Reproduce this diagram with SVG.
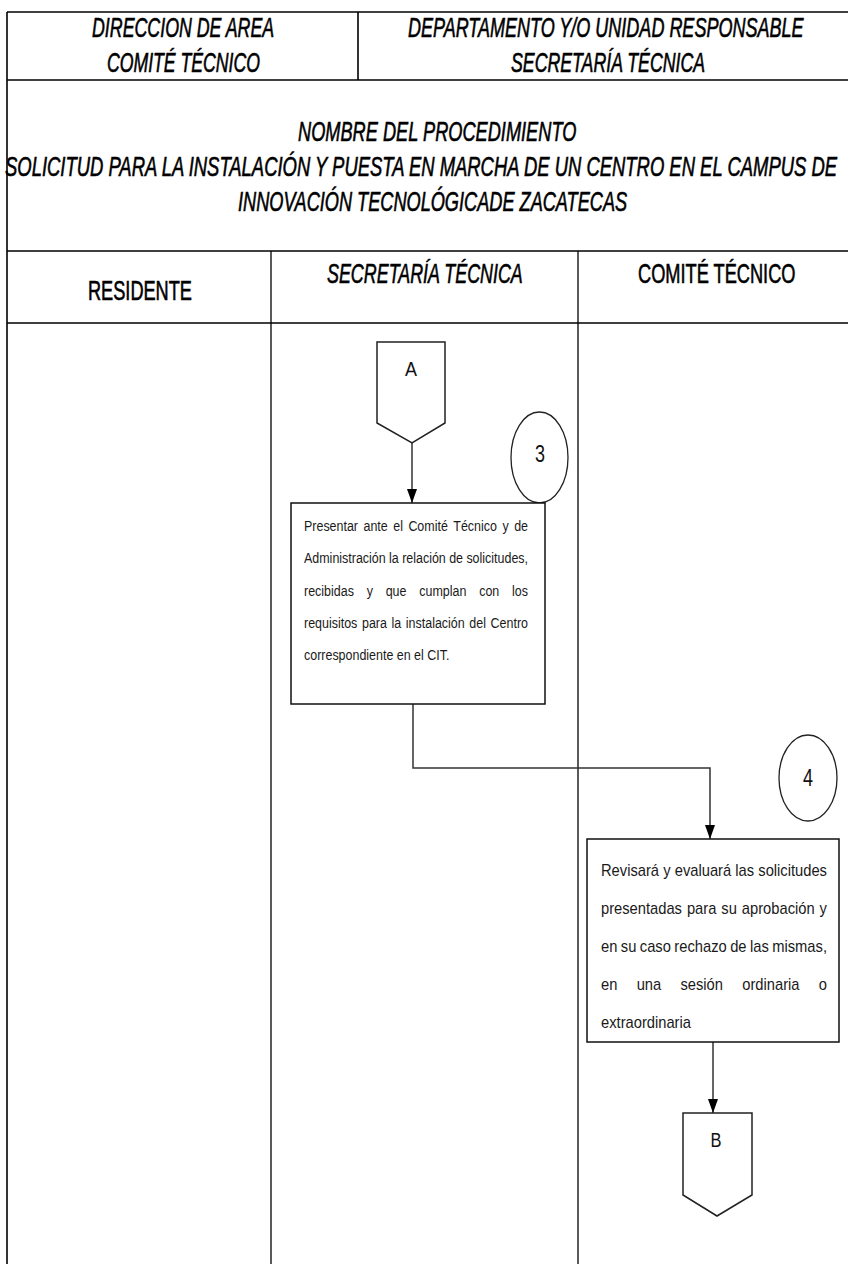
<svg xmlns="http://www.w3.org/2000/svg" width="848" height="1264" viewBox="0 0 848 1264">
  <defs>
    <marker id="arrow" viewBox="0 0 14 10" refX="14" refY="5" markerWidth="14" markerHeight="10" markerUnits="userSpaceOnUse" orient="auto">
      <path d="M0,0 L14,5 L0,10 Z" fill="#000"/>
    </marker>
    <style>
      .frame { fill: none; stroke: #000; stroke-width: 1.6; }
      .lane { fill: none; stroke: #000; stroke-width: 1.3; }
      .hdr { font-family: "Liberation Sans", Arial, sans-serif; font-size: 27px; font-style: italic; fill: #000; stroke: #000; stroke-width: 0.6; }
      .lanehdr { font-family: "Liberation Sans", Arial, sans-serif; font-size: 27px; fill: #000; stroke: #000; stroke-width: 0.6; }
      .shape { fill: #fff; stroke: #222; stroke-width: 1.5; }
      .box { fill: #fff; stroke: #111; stroke-width: 1.5; }
      .circ { fill: #fff; stroke: #222; stroke-width: 1.3; }
      .lbl { font-family: "Liberation Sans", Arial, sans-serif; font-size: 20px; fill: #111; text-anchor: middle; }
      .num { font-family: "Liberation Sans", Arial, sans-serif; font-size: 23px; fill: #111; text-anchor: middle; }
      .t3 { font-family: "Liberation Sans", Arial, sans-serif; font-size: 14px; fill: #1a1a1a; }
      .t4 { font-family: "Liberation Sans", Arial, sans-serif; font-size: 17px; fill: #1a1a1a; }
      .conn { fill: none; stroke: #333; stroke-width: 1.5; }
    </style>
  </defs>

  <rect x="0" y="0" width="848" height="1264" fill="#fff"/>

  <g id="table">
    <line class="frame" x1="7" y1="12" x2="848" y2="12"/>
    <line class="frame" x1="7" y1="12" x2="7" y2="1264"/>
    <line class="frame" x1="358" y1="12" x2="358" y2="80"/>
    <line class="frame" x1="7" y1="80" x2="848" y2="80"/>
    <line class="frame" x1="7" y1="251" x2="848" y2="251"/>
    <line class="frame" x1="7" y1="323" x2="848" y2="323"/>
    <line class="lane" x1="271" y1="251" x2="271" y2="1264"/>
    <line class="lane" x1="578" y1="251" x2="578" y2="1264"/>
  </g>

  <g id="header">
    <text class="hdr" transform="translate(92,37) scale(0.659,1)">DIRECCION DE AREA</text>
    <text class="hdr" transform="translate(107,72) scale(0.654,1)">COMITÉ TÉCNICO</text>
    <text class="hdr" transform="translate(408,37) scale(0.667,1)">DEPARTAMENTO Y/O UNIDAD RESPONSABLE</text>
    <text class="hdr" transform="translate(511,72) scale(0.657,1)">SECRETARÍA TÉCNICA</text>
  </g>

  <g id="title">
    <text class="hdr" transform="translate(298,141) scale(0.674,1)">NOMBRE DEL PROCEDIMIENTO</text>
    <text class="hdr" transform="translate(5,176) scale(0.683,1)">SOLICITUD PARA LA INSTALACIÓN Y PUESTA EN MARCHA DE UN CENTRO EN EL CAMPUS DE</text>
    <text class="hdr" transform="translate(238,211) scale(0.673,1)">INNOVACIÓN TECNOLÓGICADE ZACATECAS</text>
  </g>

  <g id="lane-headers">
    <text class="lanehdr" transform="translate(88,300) scale(0.673,1)">RESIDENTE</text>
    <text class="hdr" transform="translate(327,283) scale(0.663,1)">SECRETARÍA TÉCNICA</text>
    <text class="lanehdr" transform="translate(638,283) scale(0.675,1)">COMITÉ TÉCNICO</text>
  </g>

  <g id="connectors">
    <line class="conn" x1="412" y1="443" x2="412" y2="503" marker-end="url(#arrow)"/>
    <polyline class="conn" points="413,704 413,768 710,768 710,839" marker-end="url(#arrow)"/>
    <line class="conn" x1="713" y1="1042" x2="713" y2="1113" marker-end="url(#arrow)"/>
  </g>

  <g id="connector-A">
    <path class="shape" d="M377,342 L445,342 L445,423 L412,443 L377,423 Z"/>
    <text class="lbl" x="411" y="376" textLength="12" lengthAdjust="spacingAndGlyphs">A</text>
  </g>

  <g id="step-3-number">
    <ellipse class="circ" cx="539.5" cy="457.5" rx="28.5" ry="45.5"/>
    <text class="num" x="540" y="462" textLength="10" lengthAdjust="spacingAndGlyphs">3</text>
  </g>

  <g id="step-3">
    <rect class="box" x="291" y="503" width="254" height="201"/>
    <text class="t3" transform="translate(304,531) scale(0.89,1)"><tspan x="0">Presentar</tspan><tspan x="66.84">ante</tspan><tspan x="100.25">el</tspan><tspan x="117.29">Comité</tspan><tspan x="167.79">Técnico</tspan><tspan x="222.96">y</tspan><tspan x="236.11">de</tspan></text>
    <text class="t3" transform="translate(304,563) scale(0.89,1)"><tspan x="0">Administración</tspan><tspan x="95.60">la</tspan><tspan x="110.27">relación</tspan><tspan x="163.08">de</tspan><tspan x="182.45">solicitudes,</tspan></text>
    <text class="t3" transform="translate(304,596) scale(0.89,1)"><tspan x="0">recibidas</tspan><tspan x="70.40">y</tspan><tspan x="91.80">que</tspan><tspan x="129.54">cumplan</tspan><tspan x="196.84">con</tspan><tspan x="233.81">los</tspan></text>
    <text class="t3" transform="translate(304,628) scale(0.89,1)"><tspan x="0">requisitos</tspan><tspan x="65.12">para</tspan><tspan x="98.35">la</tspan><tspan x="114.45">instalación</tspan><tspan x="185.80">del</tspan><tspan x="209.69">Centro</tspan></text>
    <text class="t3" transform="translate(304,660) scale(0.89,1)">correspondiente en el CIT.</text>
  </g>

  <g id="step-4-number">
    <ellipse class="circ" cx="808" cy="778" rx="29" ry="43"/>
    <text class="num" x="808" y="786" textLength="10" lengthAdjust="spacingAndGlyphs">4</text>
  </g>

  <g id="step-4">
    <rect class="box" x="587" y="839" width="252" height="203"/>
    <text class="t4" transform="translate(601,876) scale(0.866,1)"><tspan x="0">Revisará</tspan><tspan x="71.85">y</tspan><tspan x="85.14">evaluará</tspan><tspan x="155.12">las</tspan><tspan x="181.63">solicitudes</tspan></text>
    <text class="t4" transform="translate(601,914) scale(0.866,1)"><tspan x="0">presentadas</tspan><tspan x="99.25">para</tspan><tspan x="138.97">su</tspan><tspan x="162.63">aprobación</tspan><tspan x="252.44">y</tspan></text>
    <text class="t4" transform="translate(601,952) scale(0.866,1)"><tspan x="0">en</tspan><tspan x="22.89">su</tspan><tspan x="44.82">caso</tspan><tspan x="84.70">rechazo</tspan><tspan x="149.15">de</tspan><tspan x="172.03">las</tspan><tspan x="197.74">mismas,</tspan></text>
    <text class="t4" transform="translate(601,990) scale(0.866,1)"><tspan x="0">en</tspan><tspan x="41.15">una</tspan><tspan x="91.76">sesión</tspan><tspan x="163.13">ordinaria</tspan><tspan x="251.50">o</tspan></text>
    <text class="t4" transform="translate(601,1028) scale(0.866,1)">extraordinaria</text>
  </g>

  <g id="connector-B">
    <path class="shape" d="M683,1113 L752,1113 L752,1195 L717,1216 L683,1195 Z"/>
    <text class="lbl" x="716" y="1147" textLength="11" lengthAdjust="spacingAndGlyphs">B</text>
  </g>
</svg>
